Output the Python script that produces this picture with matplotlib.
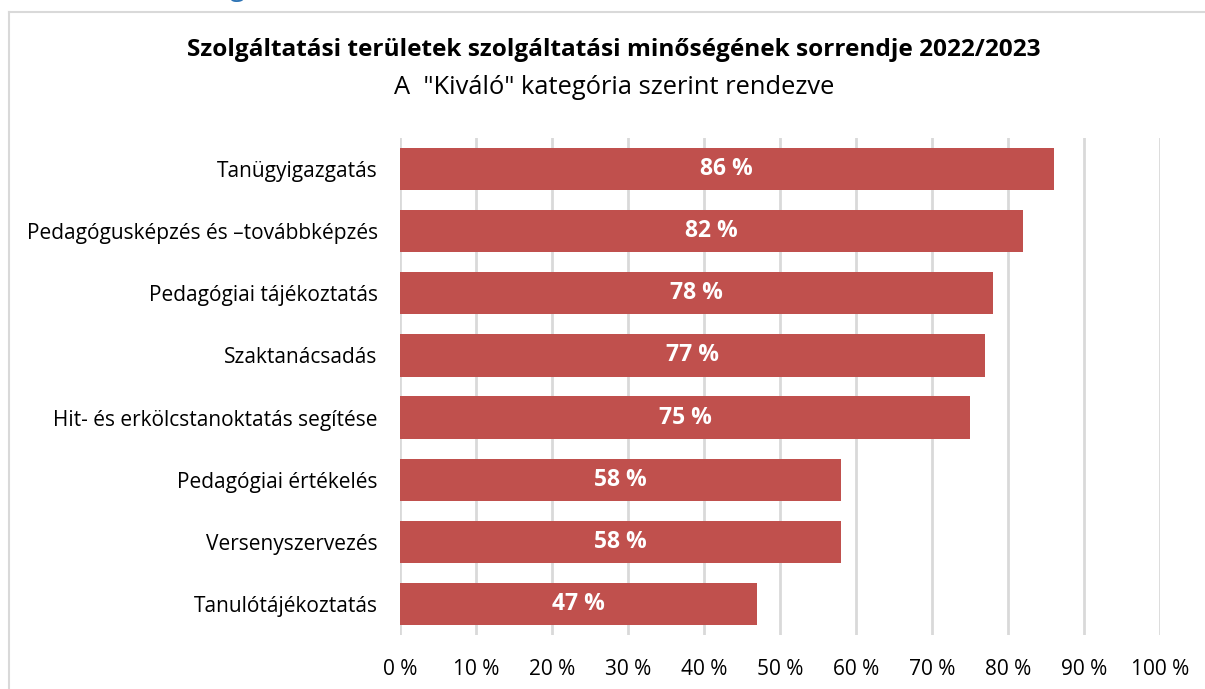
import matplotlib.pyplot as plt
from matplotlib.lines import Line2D

categories = [
    "Tanügyigazgatás",
    "Pedagógusképzés és –továbbképzés",
    "Pedagógiai tájékoztatás",
    "Szaktanácsadás",
    "Hit- és erkölcstanoktatás segítése",
    "Pedagógiai értékelés",
    "Versenyszervezés",
    "Tanulótájékoztatás",
]
values = [86, 82, 78, 77, 75, 58, 58, 47]
xticks = list(range(0, 101, 10))
tick_labels = [f"{t} %" for t in xticks]

title = "Szolgáltatási területek szolgáltatási minőségének sorrendje 2022/2023"
subtitle = 'A  "Kiváló" kategória szerint rendezve'

BAR_COLOR = "#C0504D"
GRID_COLOR = "#D9D9D9"

plt.rcParams['font.family'] = ['Open Sans', 'DejaVu Sans']

fig = plt.figure(figsize=(12.05, 6.89), dpi=100)
ax = fig.add_axes([400 / 1205, 1 - 635 / 689, 760 / 1205, 497 / 689])

ypos = list(range(len(categories)))
ax.barh(ypos, values, height=0.68, color=BAR_COLOR, zorder=2)
for y, v in zip(ypos, values):
    ax.text(v / 2, y, f"{v} %", ha='center', va='center', color='white',
            fontsize=16.5, fontweight='bold', zorder=3)

ax.set_xlim(0, 100)
ax.set_ylim(len(categories) - 0.5, -0.5)
ax.set_xticks(xticks)
ax.set_xticklabels(tick_labels, fontsize=15)
ax.set_yticks(ypos)
ax.set_yticklabels(categories, fontsize=15)
ax.tick_params(axis='both', length=0)
ax.tick_params(axis='x', pad=17)
ax.tick_params(axis='y', pad=16)
ax.grid(axis='x', color=GRID_COLOR, linewidth=2, zorder=0)
for s in ax.spines.values():
    s.set_visible(False)

fig.text(614 / 1205, 1 - 50 / 689, title, ha='center', va='center',
         fontsize=17.6, fontweight='bold')
fig.text(614 / 1205, 1 - 88 / 689, subtitle, ha='center', va='center',
         fontsize=18.4)

# chart frame (left and top edges visible)
fig.add_artist(Line2D([9 / 1205, 9 / 1205], [0, 1 - 12 / 689],
                      transform=fig.transFigure, color=GRID_COLOR, linewidth=1.5))
fig.add_artist(Line2D([9 / 1205, 1], [1 - 12 / 689, 1 - 12 / 689],
                      transform=fig.transFigure, color=GRID_COLOR, linewidth=1.5))

# clipped heading above the chart
fig.text(237 / 1205, 1 + 12 / 689, "g", ha='center', va='center',
         fontsize=20, color="#2E74B5")

fig.savefig("out.png", dpi=100, facecolor='white')
